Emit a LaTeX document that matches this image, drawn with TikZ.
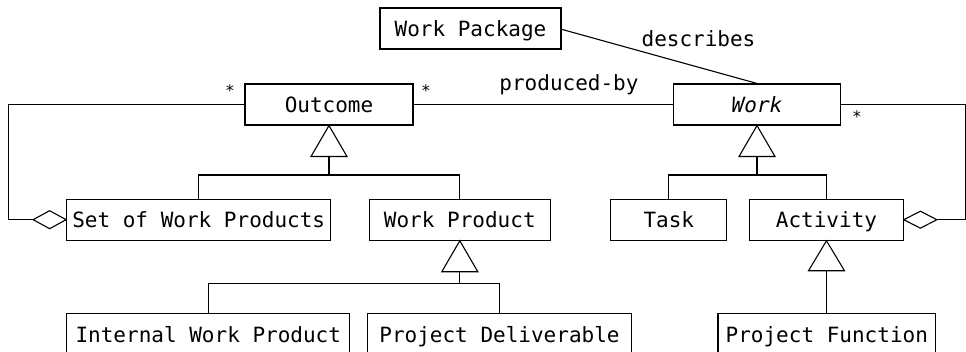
\documentclass[tikz,border=0pt]{standalone}
\usepackage{fontspec}
\newfontfamily\umlfont{DejaVu Sans Mono}
\usetikzlibrary{calc}
\begin{document}
\begin{tikzpicture}[x=0.5pt,y=-0.5pt,line width=0.55pt,
  every node/.style={font=\umlfont\fontsize{10.5}{12}\selectfont},
  box/.style={draw,inner sep=0pt,minimum height=20.5pt,text height=8.2pt,text depth=0pt},
  lbl/.style={inner sep=0pt},
  mult/.style={inner sep=0pt,font=\umlfont\fontsize{8}{10}\selectfont}]
\useasboundingbox (0,0) rectangle (966,352);
% classes
\node[box,minimum width=90.5pt] (wp) at (470.5,28.5) {Work Package};
\node[box,minimum width=84pt] (outcome) at (329,104.5) {Outcome};
\node[box,minimum width=83.5pt] (work) at (757,104.5) {\itshape Work};
\node[box,minimum width=132pt] (setwp) at (198.7,219.7) {Set of Work Products};
\node[box,minimum width=90.5pt] (workprod) at (459.8,219.7) {Work Product};
\node[box,minimum width=58pt] (task) at (668.8,219.7) {Task};
\node[box,minimum width=76.8pt] (activity) at (826.5,219.7) {Activity};
\node[box,minimum width=141.6pt] (internal) at (208.3,334.2) {Internal Work Product};
\node[box,minimum width=131.8pt] (deliv) at (499.5,334.2) {Project Deliverable};
\node[box,minimum width=108.8pt] (func) at (826.8,334.2) {Project Function};
% generalization: Outcome
\draw (outcome.south) -- ++(-18,31) -- ++(36,0) -- cycle;
\coordinate (ob) at ($(outcome.south)+(0,31)$);
\coordinate (oj) at (329,175);
\draw (ob) -- (oj);
\draw (setwp.north) |- (oj) -| (workprod.north);
% generalization: Work
\draw (work.south) -- ++(-18,31) -- ++(36,0) -- cycle;
\coordinate (wb) at ($(work.south)+(0,31)$);
\coordinate (wj) at (757,175);
\draw (wb) -- (wj);
\draw (task.north) |- (wj) -| (activity.north);
% generalization: Work Product
\draw (workprod.south) -- ++(-18,31) -- ++(36,0) -- cycle;
\coordinate (pb) at ($(workprod.south)+(0,31)$);
\coordinate (pj) at (459.8,283.7);
\draw (pb) -- (pj);
\draw (internal.north) |- (pj) -| (deliv.north);
% generalization: Activity
\draw (activity.south) -- ++(-18,30) -- ++(36,0) -- cycle;
\coordinate (ab) at ($(activity.south)+(0,30)$);
\draw (ab) -- (func.north |- ab) -- (func.north);
% aggregation: Set of Work Products
\draw (setwp.west) -- ++(-16.5,-9) -- ++(-16.5,9) -- ++(16.5,9) -- cycle;
\coordinate (sd) at ($(setwp.west)+(-33,0)$);
\draw (outcome.west) -- ++(-236,0) |- (sd);
% aggregation: Activity
\draw (activity.east) -- ++(16.5,-8.5) -- ++(16.5,8.5) -- ++(-16.5,8.5) -- cycle;
\coordinate (ad) at ($(activity.east)+(33,0)$);
\draw (work.east) -- ++(124,0) |- (ad);
% associations
\draw (outcome.east) -- (work.west);
\draw (wp.east |- 0,29.3) -- (work.north);
% labels
\node[mult] (star1) at (230,91) {*};
\node[mult] (star2) at (426,91) {*};
\node[mult] (star3) at (857,117) {*};
\node[lbl,anchor=base] (prod) at (569,91) {produced-by};
\node[lbl,anchor=base] (descr) at (698.5,46.5) {describes};
\end{tikzpicture}
\end{document}
